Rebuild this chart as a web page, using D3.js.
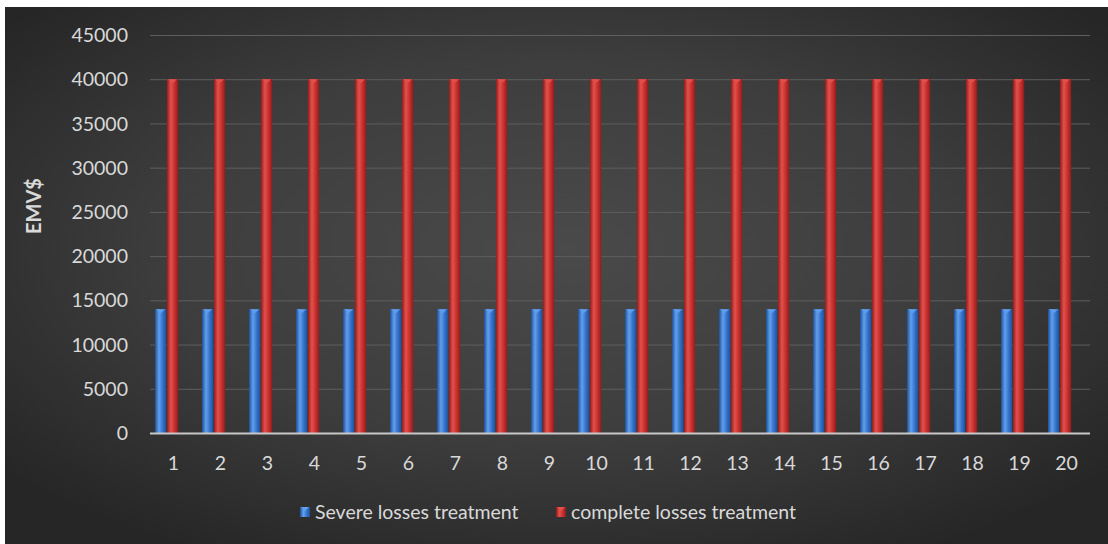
<!DOCTYPE html>
<html>
<head>
<meta charset="utf-8">
<script src="https://cdn.jsdelivr.net/npm/d3@7"></script>
<style>
  html, body { margin: 0; padding: 0; background: #ffffff; }
  svg { display: block; }
  text { font-family: Lato, "Open Sans", sans-serif; }
</style>
</head>
<body>
<svg id="chart" width="1108" height="544"></svg>
<script>
// Scenario numbers along the x axis
const categories = d3.range(1, 21).map(String);
// Expected monetary values per scenario
const severeValues = [14000, 14000, 14000, 14000, 14000, 14000, 14000, 14000, 14000, 14000,
                      14000, 14000, 14000, 14000, 14000, 14000, 14000, 14000, 14000, 14000];
const completeValues = [40000, 40000, 40000, 40000, 40000, 40000, 40000, 40000, 40000, 40000,
                        40000, 40000, 40000, 40000, 40000, 40000, 40000, 40000, 40000, 40000];
const seriesNames = ["Severe losses treatment", "complete losses treatment"];
const yTicks = [0, 5000, 10000, 15000, 20000, 25000, 30000, 35000, 40000, 45000];
const yTitle = "EMV$";

const series = [
  { name: seriesNames[0], values: severeValues, base: "#3271c9", light: "#629fec", dark: "#1f5199" },
  { name: seriesNames[1], values: completeValues, base: "#c42f2d", light: "#e4504c", dark: "#8f1d1c" }
];

const svg = d3.select("#chart");
const W = 1108, H = 544;
const plot = { left: 150, right: 1090, top: 35, bottom: 433 };
const labelColor = "#d9d9d9";
const fontSize = 19.5;

const defs = svg.append("defs");

// Dark chart panel with a soft lighter middle
const bg = defs.append("radialGradient").attr("id", "panelGrad")
  .attr("cx", "50%").attr("cy", "45%").attr("r", "65%");
bg.append("stop").attr("offset", "0%").attr("stop-color", "#4a4a4a");
bg.append("stop").attr("offset", "55%").attr("stop-color", "#3d3d3d");
bg.append("stop").attr("offset", "100%").attr("stop-color", "#262626");

svg.append("rect").attr("x", 5).attr("y", 7).attr("width", W - 5).attr("height", H - 7)
  .attr("fill", "url(#panelGrad)");

// Cylinder-like shading for each series
series.forEach((s, i) => {
  const g = defs.append("linearGradient").attr("id", "barGrad" + i)
    .attr("x1", "0%").attr("x2", "100%").attr("y1", "0%").attr("y2", "0%");
  g.append("stop").attr("offset", "0%").attr("stop-color", s.dark);
  g.append("stop").attr("offset", "35%").attr("stop-color", s.light);
  g.append("stop").attr("offset", "70%").attr("stop-color", s.base);
  g.append("stop").attr("offset", "100%").attr("stop-color", s.dark);
});

const x = d3.scaleBand().domain(categories).range([plot.left, plot.right]).padding(0);
const xSub = d3.scaleBand().domain(seriesNames)
  .range([x.bandwidth() * 0.107, x.bandwidth() * 0.6]).paddingInner(0.05);
const y = d3.scaleLinear().domain([0, 45000]).range([plot.bottom, plot.top]);

// Horizontal gridlines
svg.append("g")
  .selectAll("line").data(yTicks.filter(t => t > 0)).join("line")
  .attr("x1", plot.left).attr("x2", plot.right)
  .attr("y1", d => y(d) + 0.5).attr("y2", d => y(d) + 0.5)
  .attr("stroke", "#5e5e5e").attr("stroke-width", 1);

// Y axis labels
const yAxis = d3.axisLeft(y).tickValues(yTicks).tickSize(0).tickPadding(0).tickFormat(d3.format("d"));
const yg = svg.append("g").attr("transform", `translate(${plot.left - 22},0)`).call(yAxis);
yg.select(".domain").remove();
yg.selectAll("text").attr("fill", labelColor).attr("font-size", fontSize).attr("dy", "0.34em");

// Axis title
svg.append("text")
  .attr("transform", `translate(36,206) rotate(-90)`)
  .attr("text-anchor", "middle").attr("dominant-baseline", "middle")
  .attr("fill", labelColor).attr("font-size", 20).attr("font-weight", "bold")
  .text(yTitle);

// Bars
series.forEach((s, i) => {
  const g = svg.append("g");
  const data = categories.map((c, k) => ({ c, v: s.values[k] }));
  g.selectAll("rect").data(data).join("rect")
    .attr("x", d => x(d.c) + xSub(s.name))
    .attr("width", xSub.bandwidth())
    .attr("y", d => y(d.v))
    .attr("height", d => y(0) - y(d.v))
    .attr("fill", `url(#barGrad${i})`);
  // Light cap on top of each bar
  g.selectAll("path").data(data).join("path")
    .attr("d", d => {
      const x0 = x(d.c) + xSub(s.name), w = xSub.bandwidth(), t = y(d.v);
      return `M${x0 + 1},${t} L${x0 + w - 1},${t} L${x0 + w / 2},${t + 4} Z`;
    })
    .attr("fill", s.light).attr("opacity", 0.9);
});

// Baseline
svg.append("line")
  .attr("x1", plot.left).attr("x2", plot.right)
  .attr("y1", y(0) + 0.5).attr("y2", y(0) + 0.5)
  .attr("stroke", "#c8c8c8").attr("stroke-width", 2);

// X axis labels
const xAxis = d3.axisBottom(x).tickSize(0).tickPadding(0);
const xg = svg.append("g").attr("transform", `translate(0,${plot.bottom})`).call(xAxis);
xg.select(".domain").remove();
xg.selectAll("text").attr("fill", labelColor).attr("font-size", fontSize).attr("dy", "0").attr("y", 37);

// Legend
const legend = svg.append("g").attr("transform", "translate(300,512)");
const legendX = [0, 256];
series.forEach((s, i) => {
  const lg = legend.append("g").attr("transform", `translate(${legendX[i]},0)`);
  lg.append("rect").attr("x", 0).attr("y", -5).attr("width", 10).attr("height", 10)
    .attr("fill", `url(#barGrad${i})`);
  lg.append("path").attr("d", "M1,-5 L9,-5 L5,-1 Z").attr("fill", s.light);
  lg.append("text").attr("x", 15).attr("y", 0).attr("dy", "0.35em")
    .attr("fill", labelColor).attr("font-size", fontSize).text(s.name);
});
</script>
</body>
</html>
